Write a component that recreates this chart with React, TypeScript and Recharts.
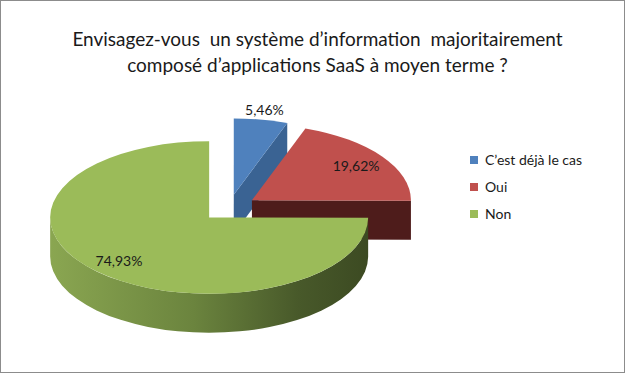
import { Cell, Legend, Pie, PieChart } from "recharts";

const categories = ["C’est déjà le cas", "Oui", "Non"];
const values = [5.46, 19.62, 74.93];
const labels = ["5,46%", "19,62%", "74,93%"];
const titleLines = [
  "Envisagez-vous  un système d’information  majoritairement",
  "composé d’applications SaaS à moyen terme ?",
];

const COLORS = ["#4F81BD", "#C0504D", "#9BBB59"];
const CUT_COLORS = ["#3A6393", "#4E1C1B", "#5E7634"];
const FONT = "Lato, 'Noto Sans', sans-serif";

const TILT = 0.48; // ry / rx
const DEPTH = 39;
const EXPLODE = 28;

const data = categories.map((name, i) => ({ name, value: values[i] }));

const rad = (a: number) => (a * Math.PI) / 180;

function slice3d(props: any) {
  const { cx, cy, outerRadius, startAngle, endAngle, midAngle, index } = props;
  const rx = outerRadius;
  const ry = outerRadius * TILT;
  const ox = cx + EXPLODE * Math.cos(rad(midAngle));
  const oy = cy - EXPLODE * TILT * Math.sin(rad(midAngle));
  const pt = (a: number, d = 0) => [ox + rx * Math.cos(rad(a)), oy - ry * Math.sin(rad(a)) + d];
  const s = Math.max(startAngle, endAngle);
  const t = Math.min(startAngle, endAngle);
  const large = s - t > 180 ? 1 : 0;

  const [sx, sy] = pt(s);
  const [tx, ty] = pt(t);
  const top = `M${ox},${oy} L${sx},${sy} A${rx},${ry} 0 ${large} 1 ${tx},${ty} Z`;

  // outer wall where the rim faces the viewer
  const walls: string[] = [];
  for (let k = -2; k <= 1; k++) {
    const u = Math.max(t, 180 + 360 * k);
    const v = Math.min(s, 360 + 360 * k);
    if (v - u > 0.01) {
      const [vx, vy] = pt(v);
      const [ux, uy] = pt(u);
      walls.push(
        `M${vx},${vy} A${rx},${ry} 0 0 1 ${ux},${uy} L${ux},${uy + DEPTH} A${rx},${ry} 0 0 0 ${vx},${vy + DEPTH} Z`
      );
    }
  }

  // radial cut faces
  const cuts: string[] = [];
  const face = (a: number) => {
    const [px, py] = pt(a);
    return `M${ox},${oy} L${px},${py} L${px},${py + DEPTH} L${ox},${oy + DEPTH} Z`;
  };
  if (Math.cos(rad(s)) < -0.01) cuts.push(face(s));
  if (Math.cos(rad(t)) > 0.01) cuts.push(face(t));

  const small = values[index] < 10;
  const f = small ? 1.13 : 0.8;
  const lx = ox + rx * f * Math.cos(rad(midAngle));
  const ly = oy - ry * f * Math.sin(rad(midAngle));
  const gid = `wall-${index}`;

  return (
    <g>
      <defs>
        <linearGradient id={gid} x1="0" y1="0" x2="1" y2="0">
          <stop offset="0" stopColor={index === 2 ? "#8AA651" : CUT_COLORS[index]} />
          <stop offset="0.45" stopColor={index === 2 ? "#6B843E" : CUT_COLORS[index]} />
          <stop offset="0.78" stopColor={index === 2 ? "#48592A" : CUT_COLORS[index]} />
          <stop offset="1" stopColor={index === 2 ? "#3C4A22" : CUT_COLORS[index]} />
        </linearGradient>
      </defs>
      {cuts.map((d, i) => (
        <path key={`c${i}`} d={d} fill={CUT_COLORS[index]} />
      ))}
      {walls.map((d, i) => (
        <path key={`w${i}`} d={d} fill={`url(#${gid})`} />
      ))}
      <path d={top} fill={COLORS[index]} />
      <text
        x={lx}
        y={ly}
        textAnchor="middle"
        dominantBaseline="central"
        fontSize={14}
        fontFamily={FONT}
        fill="#1a1a1a"
      >
        {labels[index]}
      </text>
    </g>
  );
}

function LegendBox() {
  return (
    <ul style={{ listStyle: "none", margin: 0, padding: 0, fontFamily: FONT, fontSize: 14 }}>
      {categories.map((c, i) => (
        <li key={c} style={{ display: "flex", alignItems: "center", height: 27, color: "#1a1a1a" }}>
          <span style={{ width: 8, height: 8, background: COLORS[i], marginRight: 7, display: "inline-block" }} />
          {c}
        </li>
      ))}
    </ul>
  );
}

export default function App() {
  return (
    <div
      style={{
        position: "absolute",
        left: 0,
        top: 0,
        width: 625,
        height: 373,
        boxSizing: "border-box",
        border: "1px solid #8c8c8c",
        background: "#fff",
        overflow: "hidden",
      }}
    >
      <div style={{ position: "absolute", left: -1, top: -1, width: 625, height: 373 }}>
        <div
          style={{
            position: "absolute",
            left: 0,
            top: 26,
            width: 635,
            textAlign: "center",
            fontFamily: FONT,
            fontSize: 19,
            lineHeight: "26px",
            color: "#1a1a1a",
            whiteSpace: "pre",
          }}
        >
          {titleLines.map((l) => (
            <div key={l}>{l}</div>
          ))}
        </div>
        <PieChart width={625} height={373}>
          <Pie
            data={data}
            dataKey="value"
            nameKey="name"
            cx={224}
            cy={203}
            outerRadius={159}
            startAngle={90}
            endAngle={-270}
            stroke="none"
            label={slice3d}
            labelLine={false}
            isAnimationActive={false}
          >
            {data.map((d, i) => (
              <Cell key={d.name} fill={COLORS[i]} fillOpacity={0} />
            ))}
          </Pie>
          <Legend
            content={() => <LegendBox />}
            wrapperStyle={{ position: "absolute", left: 470, top: 146, width: 150 }}
          />
        </PieChart>
      </div>
    </div>
  );
}
